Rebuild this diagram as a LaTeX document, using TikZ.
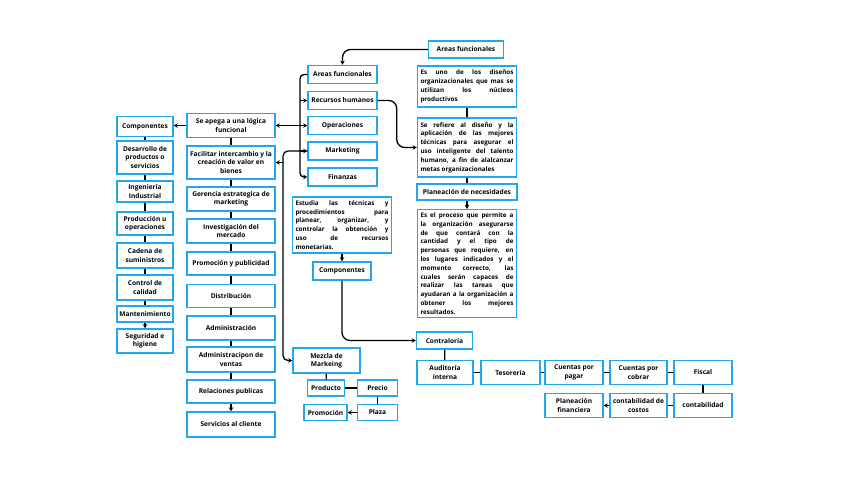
\documentclass[tikz,border=0pt]{standalone}
\usepackage{fontspec}
\setmainfont{Open Sans}
\usetikzlibrary{arrows.meta}
\definecolor{boxblue}{RGB}{35,165,240}
\tikzset{
  box/.style={draw=boxblue, line width=1.5pt, fill=white, align=center, inner sep=2pt,
    font=\bfseries\fontsize{6.6}{8.3}\selectfont},
  txtbox/.style={box, align=justify, inner sep=3pt, text width=93pt,
    font=\bfseries\fontsize{6.3}{8.8}\selectfont},
  link/.style={line width=1.3pt},
  arr/.style={link, -{Stealth[length=4pt,width=4.5pt]}},
  dblarr/.style={link, {Stealth[length=4pt,width=4.5pt]}-{Stealth[length=4pt,width=4.5pt]}}
}
\begin{document}
\begin{tikzpicture}[x=1pt,y=-1pt]
\useasboundingbox (0,0) rectangle (848,477);

% left column
\node[box, minimum width=56pt, minimum height=20pt] (comp) at (145,126.5) {Componentes};
\node[box, minimum width=56pt, minimum height=33pt] (desa) at (145,157.5) {Desarrollo de\\productos o\\servicios};
\node[box, minimum width=56pt, minimum height=21pt] (inge) at (145,191.5) {Ingeniería\\Industrial};
\node[box, minimum width=56pt, minimum height=23pt] (prod) at (145,223.5) {Producción u\\operaciones};
\node[box, minimum width=56pt, minimum height=25pt] (cade) at (145,255.5) {Cadena de\\suministros};
\node[box, minimum width=56pt, minimum height=25pt] (ctrl) at (145,287.5) {Control de\\calidad};
\node[box, minimum width=56pt, minimum height=16pt] (mant) at (145,314) {Mantenimiento};
\node[box, minimum width=56pt, minimum height=24pt] (segu) at (145,341) {Seguridad e\\higiene};

% marketing column
\node[box, minimum width=88pt, minimum height=24pt] (apega) at (231,125.5) {Se apega a una lógica\\funcional};
\node[box, minimum width=88pt, minimum height=33pt] (faci) at (231,162.5) {Facilitar intercambio y la\\creación de valor en\\bienes};
\node[box, minimum width=88pt, minimum height=24pt] (gere) at (231,199) {Gerencia estrategica de\\marketing};
\node[box, minimum width=88pt, minimum height=24pt] (inve) at (231,231) {Investigación del\\mercado};
\node[box, minimum width=88pt, minimum height=23pt] (promo) at (231,263.5) {Promoción y publicidad};
\node[box, minimum width=88pt, minimum height=23pt] (dist) at (231,296) {Distribución};
\node[box, minimum width=88pt, minimum height=24pt] (admi) at (231,328) {Administración};
\node[box, minimum width=88pt, minimum height=25pt] (vent) at (231,359.5) {Administracipon de\\ventas};
\node[box, minimum width=88pt, minimum height=23pt] (rela) at (231,391.5) {Relaciones publicas};
\node[box, minimum width=88pt, minimum height=25pt] (serv) at (231,424.5) {Servicios al cliente};

% areas
\node[box, minimum width=69pt, minimum height=18pt] (area) at (342.5,74.5) {Areas funcionales};
\node[box, minimum width=69pt, minimum height=18pt] (rrhh) at (342.5,100.5) {Recursos humanos};
\node[box, minimum width=69pt, minimum height=18pt] (oper) at (342.5,125.5) {Operaciones};
\node[box, minimum width=69pt, minimum height=18pt] (mark) at (342.5,151) {Marketing};
\node[box, minimum width=69pt, minimum height=18pt] (fina) at (342.5,177) {Finanzas};
\node[txtbox, minimum height=56pt] (estu) at (342,225) {Estudia las técnicas y\linebreak procedimientos para\linebreak planear, organizar, y\linebreak controlar la obtención y\linebreak uso de recursos\linebreak monetarias.};
\node[box, minimum width=58pt, minimum height=18pt] (comp2) at (342,271) {Componentes};

% mezcla
\node[box, minimum width=67pt, minimum height=25pt] (mezc) at (326.5,360.5) {Mezcla de\\Markeing};
\node[box, minimum width=37pt, minimum height=16pt] (prdc) at (326,388) {Producto};
\node[box, minimum width=40pt, minimum height=16pt] (prec) at (377.5,388) {Precio};
\node[box, minimum width=43pt, minimum height=16pt] (prmc) at (325.5,412.5) {Promoción};
\node[box, minimum width=40pt, minimum height=16pt] (plaz) at (377.5,412.5) {Plaza};

% recursos humanos
\node[box, minimum width=75pt, minimum height=17pt] (area2) at (466,49.5) {Areas funcionales};
\node[txtbox, minimum height=41pt] (uno) at (467,86.5) {Es uno de los diseños\linebreak organizacionales que mas se\linebreak utilizan los núcleos\linebreak productivos};
\node[txtbox, minimum height=59pt] (refi) at (467,147.5) {Se refiere al diseño y la\linebreak aplicación de las mejores\linebreak técnicas para asegurar el\linebreak uso inteligente del talento\linebreak humano, a fin de alalcanzar\linebreak metas organizacionales};
\node[box, minimum width=100pt, minimum height=16pt] (plan) at (467,192) {Planeación de necesidades};
\node[txtbox, minimum height=107pt] (proc) at (467,263.5) {Es el proceso que permite a\linebreak la organización asegurarse\linebreak de que contará con la\linebreak cantidad y el tipo de\linebreak personas que requiere, en\linebreak los lugares indicados y el\linebreak momento correcto, las\linebreak cuales serán capaces de\linebreak realizar las tareas que\linebreak ayudaran a la organización a\linebreak obtener los mejores\linebreak resultados.};

% finanzas
\node[box, minimum width=56pt, minimum height=17pt] (cont) at (444.5,340.5) {Contraloría};
\node[box, minimum width=56pt, minimum height=24pt] (audi) at (445,372.5) {Auditoría\\interna};
\node[box, minimum width=59pt, minimum height=24pt] (teso) at (510.5,372.5) {Tesorería};
\node[box, minimum width=58pt, minimum height=24pt] (cxp) at (574,372.5) {Cuentas por\\pagar};
\node[box, minimum width=57pt, minimum height=24pt] (cxc) at (638.5,372.5) {Cuentas por\\cobrar};
\node[box, minimum width=58pt, minimum height=24pt] (fisc) at (703,372.5) {Fiscal};
\node[box, minimum width=58pt, minimum height=24pt] (cnta) at (703,405.5) {contabilidad};
\node[box, minimum width=57pt, minimum height=24pt] (cost) at (638.5,405.5) {contabilidad de\\costos};
\node[box, minimum width=58pt, minimum height=24pt] (plfi) at (574,405.5) {Planeación\\financiera};

\coordinate (bar) at (300,0);
\coordinate (spine) at (283,0);

\foreach \a/\b in {comp/desa, desa/inge, inge/prod, prod/cade, cade/ctrl, ctrl/mant,
  apega/faci, faci/gere, gere/inve, inve/promo, promo/dist, dist/admi, admi/vent, vent/rela,
  uno/refi, refi/plan, cont/audi, audi/teso, teso/cxp, cxp/cxc, cxc/fisc, fisc/cnta, cnta/cost,
  mezc/prdc, prdc/prec, prec/plaz}
  \draw[link] (\a) -- (\b);
\draw[arr] (mant) -- (segu);
\draw[arr] (rela) -- (serv);
\draw[arr] (plan) -- (proc);
\draw[arr] (estu) -- (comp2);
\draw[arr] (cost) -- (plfi);
\draw[arr] (plaz) -- (prmc);

\draw[arr] (apega.west) -- (apega.west -| comp.east);
\draw[dblarr] (apega.east) -- (apega.east -| oper.west);
\draw[arr, rounded corners=4pt] (area.west) -| (bar |- fina.west) -- (fina.west);
\draw[arr] (bar |- rrhh.west) -- (rrhh.west);
\draw[arr] (bar |- mark.west) -- (mark.west);
\draw[arr, rounded corners=5pt] (mark.west) -| (spine |- mezc.west) -- (mezc.west);
\draw[arr] (spine |- faci.east) -- (faci.east);
\draw[arr, rounded corners=8pt] (area2.west) -| (area.north);
\draw[arr, rounded corners=8pt] (rrhh.east) -| ([xshift=-20pt]refi.west) -- (refi.west);
\draw[arr, rounded corners=8pt] (comp2.south) |- (cont.west);
\end{tikzpicture}
\end{document}
